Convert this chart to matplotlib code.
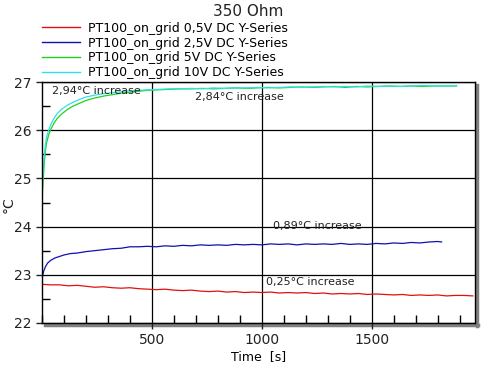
import matplotlib
matplotlib.use("Agg")
import matplotlib.pyplot as plt
from matplotlib.lines import Line2D
from matplotlib.ticker import MultipleLocator

# ---------------- data ----------------
red_t = list(range(0, 2000, 40))
red_v = [22.80, 22.79, 22.79, 22.77, 22.78, 22.76, 22.74, 22.75, 22.73, 22.72,
         22.73, 22.71, 22.70, 22.69, 22.70, 22.68, 22.67, 22.68, 22.66, 22.65,
         22.66, 22.64, 22.65, 22.63, 22.64, 22.63, 22.64, 22.62, 22.63, 22.62,
         22.63, 22.61, 22.62, 22.60, 22.61, 22.60, 22.61, 22.59, 22.60, 22.59,
         22.58, 22.59, 22.57, 22.58, 22.57, 22.58, 22.56, 22.57, 22.57, 22.56]

blue_t = [0, 3, 8, 15, 25, 40, 60, 80, 100, 130, 160, 200, 240, 280, 320, 360,
          400, 440, 480, 520, 560, 600, 640, 680, 720, 760, 800, 840, 880, 920,
          960, 1000, 1040, 1080, 1120, 1160, 1200, 1240, 1280, 1320, 1360, 1400,
          1440, 1480, 1520, 1560, 1600, 1640, 1680, 1720, 1760, 1800, 1818]
blue_v = [22.88, 22.98, 23.08, 23.16, 23.24, 23.30, 23.35, 23.38, 23.41, 23.44,
          23.45, 23.48, 23.50, 23.52, 23.54, 23.55, 23.58, 23.58, 23.59, 23.58,
          23.60, 23.59, 23.61, 23.60, 23.62, 23.61, 23.62, 23.61, 23.63, 23.62,
          23.63, 23.62, 23.64, 23.63, 23.64, 23.62, 23.64, 23.63, 23.64, 23.63,
          23.65, 23.63, 23.64, 23.63, 23.65, 23.64, 23.66, 23.65, 23.67, 23.66,
          23.68, 23.69, 23.68]

hot_t = [0, 3, 6, 10, 15, 20, 30, 40, 55, 70, 90, 115, 140, 170, 200, 240, 280,
         320, 360, 400, 440, 480, 530, 580, 630, 680, 730, 780, 830, 880, 930,
         980, 1030, 1080, 1130, 1180, 1230, 1280, 1330, 1380, 1430, 1480, 1530,
         1580, 1630, 1680, 1730, 1780, 1830, 1886]
green_v = [24.40, 24.80, 25.00, 25.30, 25.55, 25.72, 25.90, 26.02, 26.15, 26.25,
           26.34, 26.43, 26.50, 26.56, 26.62, 26.67, 26.71, 26.74, 26.77, 26.79,
           26.81, 26.83, 26.84, 26.85, 26.86, 26.86, 26.87, 26.86, 26.87, 26.88,
           26.87, 26.88, 26.89, 26.88, 26.89, 26.90, 26.89, 26.90, 26.91, 26.89,
           26.91, 26.90, 26.91, 26.92, 26.91, 26.92, 26.91, 26.92, 26.92, 26.92]
cyan_v = [24.50, 24.95, 25.20, 25.45, 25.68, 25.84, 26.00, 26.12, 26.25, 26.35,
          26.44, 26.52, 26.58, 26.64, 26.69, 26.73, 26.76, 26.78, 26.80, 26.82,
          26.83, 26.84, 26.85, 26.86, 26.86, 26.87, 26.86, 26.88, 26.87, 26.88,
          26.88, 26.89, 26.88, 26.89, 26.90, 26.89, 26.90, 26.91, 26.90, 26.91,
          26.90, 26.92, 26.91, 26.92, 26.91, 26.92, 26.93, 26.92, 26.92, 26.93]

labels = ["PT100_on_grid 0,5V DC Y-Series", "PT100_on_grid 2,5V DC Y-Series",
          "PT100_on_grid 5V DC Y-Series", "PT100_on_grid 10V DC Y-Series"]
colors = ["#e01010", "#1010b0", "#20d020", "#30e0e8"]

notes = ["2,94°C increase", "2,84°C increase", "0,89°C increase", "0,25°C increase"]
note_x = [47, 698, 1050, 1020]
note_y = [26.81, 26.69, 24.01, 22.85]

# ---------------- figure ----------------
fig = plt.figure(figsize=(5, 3.75), dpi=100)
ax = fig.add_axes([0.084, 0.139, 0.866, 0.642])

ax.plot(red_t, red_v, color=colors[0], lw=0.9)
ax.plot(blue_t, blue_v, color=colors[1], lw=0.9)
ax.plot(hot_t, green_v, color=colors[2], lw=0.9)
ax.plot(hot_t, cyan_v, color=colors[3], lw=0.9)

ax.set_xlim(0, 1970)
ax.set_ylim(22, 27)
ax.xaxis.set_major_locator(MultipleLocator(500))
ax.xaxis.set_minor_locator(MultipleLocator(100))
ax.yaxis.set_major_locator(MultipleLocator(1))
ax.yaxis.set_minor_locator(MultipleLocator(0.5))
ax.set_xticks([500, 1000, 1500])
ax.tick_params(which="major", direction="out", length=4, width=1, labelsize=10,
               colors="#222222")
ax.tick_params(which="minor", direction="in", length=6, width=1)
ax.grid(True, which="major", color="black", lw=0.9)
for s in ax.spines.values():
    s.set_color("black")
    s.set_linewidth(1)

ax.set_xlabel("Time  [s]", fontsize=9, labelpad=2)
fig.text(9 / 500, 1 - 205 / 375, "°C", rotation=90, ha="center", va="center",
         fontsize=10, color="#222222")

for txt, x, y in zip(notes, note_x, note_y):
    ax.text(x, y, txt, fontsize=8, va="center", ha="left", color="#222222")

# shadow on right and bottom
fig.add_artist(Line2D([45 / 500, 478 / 500], [1 - 325 / 375, 1 - 325 / 375],
                      color="#808080", lw=2.5, zorder=0))
fig.add_artist(Line2D([477 / 500, 477 / 500], [1 - 326 / 375, 1 - 85 / 375],
                      color="#808080", lw=2.5, zorder=0))

fig.text(0.496, 0.968, "350 Ohm", ha="center", va="center", fontsize=11,
         color="#222222")

handles = [Line2D([], [], color=c, lw=1) for c in colors]
fig.legend(handles, labels, loc="upper left", bbox_to_anchor=(0.084, 0.942),
           frameon=False, fontsize=9, handlelength=3.0, handletextpad=0.7,
           labelspacing=0.15, borderpad=0, borderaxespad=0)

fig.savefig("out.png", dpi=100)
